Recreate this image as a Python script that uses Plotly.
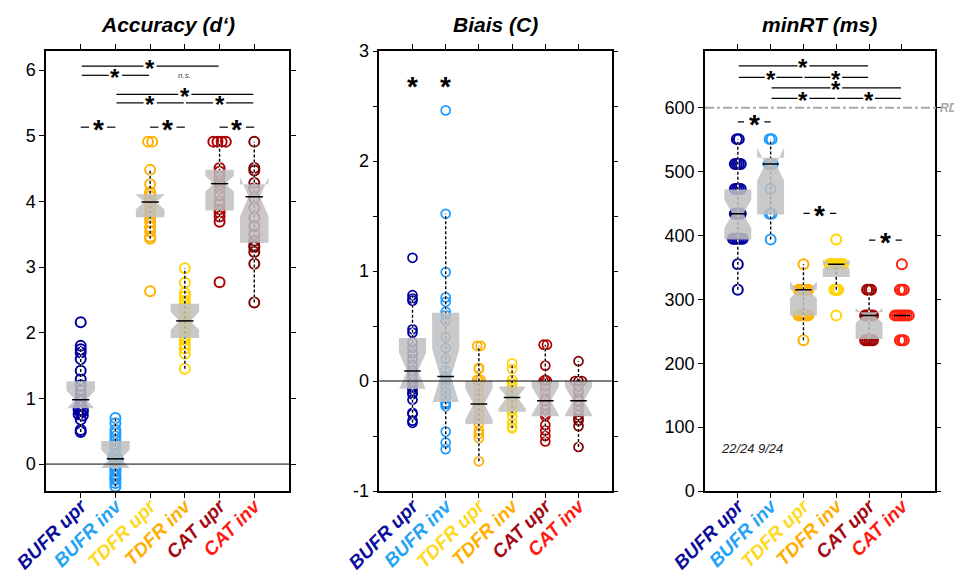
import plotly.graph_objects as go

# ---------------- categories / labels ----------------
categories = ["BUFR upr", "BUFR inv", "TDFR upr", "TDFR inv", "CAT upr", "CAT inv"]
label_colors = ["#0b0b9c", "#24a3f5", "#ffd91f", "#ffae00", "#a30a14", "#ff1b12"]

# ---------------- Accuracy (d') ----------------
acc_bufr_upr = [2.16, 1.80, 1.75, 1.70, 1.60, 1.42, 1.29, 1.20, 1.12, 1.05, 1.00, 0.96,
                0.92, 0.88, 0.85, 0.83, 0.82, 0.80, 0.78, 0.76, 0.74, 0.68, 0.52, 0.49]
acc_bufr_inv = [0.70, 0.62, 0.52, 0.47, 0.42, 0.36, 0.30, 0.25, 0.20, 0.15, 0.10, 0.08,
                0.05, 0.02, -0.02, -0.05, -0.08, -0.11, -0.16, -0.19, -0.22, -0.24, -0.29, -0.34]
acc_tdfr_upr = [4.91, 4.91, 4.48, 4.26, 4.14, 4.12, 4.08, 4.02, 3.99, 3.95, 3.90, 3.85,
                3.80, 3.76, 3.69, 3.61, 3.54, 3.46, 3.43, 2.63]
acc_tdfr_inv = [2.98, 2.76, 2.60, 2.55, 2.49, 2.44, 2.38, 2.30, 2.22, 2.18, 2.12, 2.05,
                2.00, 1.95, 1.92, 1.89, 1.83, 1.76, 1.68, 1.45]
acc_cat_upr = [4.91, 4.91, 4.91, 4.91, 4.51, 4.45, 4.38, 4.30, 4.27, 4.20, 4.10, 4.00,
               3.95, 3.88, 3.83, 3.77, 3.69, 2.77]
acc_cat_inv = [4.91, 4.51, 4.47, 4.28, 4.20, 4.05, 3.90, 3.75, 3.62, 3.50, 3.40, 3.33,
               3.30, 3.23, 3.05, 2.46]
acc_q1 = [0.85, -0.06, 3.76, 1.92, 3.86, 3.37]
acc_median = [0.98, 0.08, 3.99, 2.18, 4.27, 4.07]
acc_q3 = [1.26, 0.35, 4.11, 2.44, 4.48, 4.26]
acc_low = [0.49, -0.34, 3.43, 1.45, 3.69, 2.46]
acc_high = [1.80, 0.70, 4.48, 2.98, 4.91, 4.91]
acc_notch = [0.14, 0.14, 0.11, 0.14, 0.12, 0.30]
# significance: (from, to, y, label)
acc_sig_rows = [(0, 4, 6.06, "*"), (0, 2, 5.92, "*"), (2, 4, 5.92, "n.s."),
                (1, 5, 5.63, "*"), (1, 3, 5.50, "*"), (3, 5, 5.50, "*")]
acc_sig_pairs = [(0, 1, 5.13), (2, 3, 5.13), (4, 5, 5.13)]

# ---------------- Biais (C) ----------------
bias_bufr_upr = [1.12, 0.78, 0.75, 0.73, 0.47, 0.44, 0.35, 0.30, 0.25, 0.20, 0.15, 0.10,
                 0.06, 0.02, -0.02, -0.06, -0.08, -0.11, -0.12, -0.17, -0.29, -0.30, -0.36, -0.38]
bias_bufr_inv = [2.46, 1.52, 0.99, 0.76, 0.72, 0.63, 0.60, 0.55, 0.40, 0.30, 0.20, 0.10,
                 0.05, 0.00, -0.05, -0.10, -0.15, -0.20, -0.21, -0.23, -0.46, -0.56, -0.62]
bias_tdfr_upr = [0.32, 0.32, 0.12, 0.11, 0.01, 0.01, 0.00, -0.05, -0.10, -0.15, -0.21,
                 -0.25, -0.30, -0.35, -0.39, -0.45, -0.48, -0.52, -0.73]
bias_tdfr_inv = [0.16, 0.11, 0.01, -0.02, -0.05, -0.08, -0.12, -0.15, -0.18, -0.22,
                 -0.26, -0.28, -0.32, -0.38, -0.42, -0.43]
bias_cat_upr = [0.33, 0.33, 0.14, 0.01, 0.00, 0.00, -0.05, -0.10, -0.15, -0.18, -0.22,
                -0.26, -0.30, -0.32, -0.40, -0.45, -0.50, -0.55]
bias_cat_inv = [0.18, 0.00, 0.00, 0.00, -0.05, -0.10, -0.15, -0.18, -0.22, -0.27, -0.31,
                -0.34, -0.36, -0.41, -0.60]
bias_q1 = [-0.07, -0.19, -0.39, -0.28, -0.32, -0.32]
bias_median = [0.09, 0.04, -0.21, -0.15, -0.18, -0.18]
bias_q3 = [0.39, 0.62, 0.00, -0.05, 0.00, 0.00]
bias_low = [-0.38, -0.62, -0.73, -0.43, -0.55, -0.60]
bias_high = [0.78, 1.52, 0.32, 0.16, 0.33, 0.18]
bias_notch = [0.17, 0.25, 0.14, 0.10, 0.13, 0.13]
bias_sig_stars = [(0, 2.7), (1, 2.7)]

# ---------------- minRT (ms) ----------------
rt_bufr_upr = [551, 551, 512, 512, 512, 512, 473, 473, 473, 473, 434, 434, 434, 434,
               395, 395, 395, 395, 395, 395, 355, 315]
rt_bufr_inv = [551, 551, 512, 512, 473, 434, 434, 394, 512]
rt_tdfr_upr = [355, 315, 315, 315, 315, 315, 315, 275, 275, 275, 275, 275, 275, 236]
rt_tdfr_inv = [394, 355, 355, 355, 355, 355, 355, 355, 355, 315, 315, 315, 275]
rt_cat_upr = [315, 315, 315, 275, 275, 275, 275, 275, 236, 236, 236, 236, 236]
rt_cat_inv = [355, 315, 315, 315, 275, 275, 275, 275, 275, 275, 275, 275, 236, 236, 236]
rt_q1 = [394, 433, 275, 335, 238, 275]
rt_median = [434, 512, 315, 355, 275, 275]
rt_q3 = [472, 522, 315, 355, 280, 275]
rt_low = [315, 394, 236, 315, 236, 275]
rt_high = [551, 551, 355, 355, 315, 275]
rt_notch = [22, 26, 13, 7, 12, 0]
rt_sig_rows = [(0, 4, 665.8, "*"), (0, 2, 647.6, "*"), (2, 4, 647.6, "*"),
               (1, 5, 631.4, "*"), (1, 3, 614.7, "*"), (3, 5, 614.7, "*")]
rt_sig_pairs = [(0, 1, 578), (2, 3, 434.6), (4, 5, 392.8)]
rt_counts = [(0, "22/24"), (1, "9/24")]
rt_rdl = 600

FONT = "Liberation Sans"
PAGE_W, PAGE_H = 962, 570
OFF = 8                      # default page margin of the html body
FW, FH = PAGE_W - OFF, PAGE_H - OFF


def px(x):                   # page pixel -> paper x
    return (x - OFF) / FW


def py(y):                   # page pixel -> paper y
    return 1 - (y - OFF) / FH


ydom = [py(491), py(51)]

panels = [
    dict(title="Accuracy (d‘)", xdom=[px(46), px(289)], yrange=[-0.41, 6.29],
         points=[acc_bufr_upr, acc_bufr_inv, acc_tdfr_upr, acc_tdfr_inv, acc_cat_upr, acc_cat_inv],
         q1=acc_q1, med=acc_median, q3=acc_q3, lo=acc_low, hi=acc_high, notch=acc_notch,
         colors=["#0000a0", "#1e9bff", "#ffb000", "#ffd400", "#b00000", "#800000"],
         tol=0.03, step=0.12, msize=10, mlw=2, zero=True,
         ytick=dict(tickmode="array", tickvals=[0, 1, 2, 3, 4, 5, 6],
                    ticktext=["0", "1", "2", "3", "4", "5", "6"])),
    dict(title="Biais (C)", xdom=[px(379.3), px(611.7)], yrange=[-1, 3],
         points=[bias_bufr_upr, bias_bufr_inv, bias_tdfr_upr, bias_tdfr_inv, bias_cat_upr, bias_cat_inv],
         q1=bias_q1, med=bias_median, q3=bias_q3, lo=bias_low, hi=bias_high, notch=bias_notch,
         colors=["#0000a0", "#1e9bff", "#ffb000", "#ffd400", "#b00000", "#800000"],
         tol=0.015, step=0.1, msize=9, mlw=1.7, zero=True,
         ytick=dict(tickmode="array", tickvals=[-1, 0, 1, 2, 3],
                    ticktext=["-1", "0", "1", "2", "3"],
                    minor=dict(tickmode="array", tickvals=[-0.5, 0.5, 1.5, 2.5],
                               ticks="outside", ticklen=5, tickcolor="black"))),
    dict(title="minRT (ms)", xdom=[px(705), px(934.7)], yrange=[0, 689],
         points=[rt_bufr_upr, rt_bufr_inv, rt_tdfr_upr, rt_tdfr_inv, rt_cat_upr, rt_cat_inv],
         q1=rt_q1, med=rt_median, q3=rt_q3, lo=rt_low, hi=rt_high, notch=rt_notch,
         colors=["#0000a0", "#1e9bff", "#ffb000", "#ffd400", "#a00000", "#ff2010"],
         tol=3, step=0.06, msize=10, mlw=2, zero=False,
         ytick=dict(tickmode="array", tickvals=[0, 100, 200, 300, 400, 500, 600],
                    ticktext=["0", "100", "200", "300", "400", "500", "600"])),
]


def swarm(vals, tol, step):
    groups = {}
    for i, v in enumerate(vals):
        groups.setdefault(round(v / tol), []).append(i)
    offs = [0.0] * len(vals)
    for idx in groups.values():
        n = len(idx)
        for k, i in enumerate(idx):
            offs[i] = (k - (n - 1) / 2) * step
    return offs


tick_html = [f'<span style="color:{c}"><b><i>{t}</i></b></span>'
             for t, c in zip(categories, label_colors)]

fig = go.Figure()
layout = dict(width=FW, height=FH, margin=dict(l=0, r=0, t=0, b=0, autoexpand=False),
              template="none",
              paper_bgcolor="white", plot_bgcolor="white", showlegend=False,
              font=dict(family=FONT, color="black"))
shapes, annotations = [], []

for pi, P in enumerate(panels):
    n = "" if pi == 0 else str(pi + 1)
    xa, ya = "x" + n, "y" + n
    xo, yo = f"x{pi + 4}", f"y{pi + 4}"

    layout["xaxis" + n] = dict(domain=P["xdom"], range=[-1, 6], anchor=ya, automargin=False,
                               tickmode="array", tickvals=list(range(6)), ticktext=tick_html,
                               tickangle=-45, ticks="outside", ticklen=5, tickcolor="black",
                               ticklabelstandoff=-10,
                               showline=True, linecolor="black", linewidth=1.5, mirror="ticks",
                               showgrid=False, zeroline=False,
                               tickfont=dict(size=19, family=FONT))
    yax = dict(domain=ydom, range=P["yrange"], anchor=xa, automargin=False,
               ticks="outside", ticklen=5,
               tickcolor="black", showline=True, linecolor="black", linewidth=1.5,
               mirror="ticks", showgrid=False, zeroline=False,
               tickfont=dict(size=18, family=FONT))
    yax.update(P["ytick"])
    layout["yaxis" + n] = yax
    layout[f"xaxis{pi + 4}"] = dict(overlaying=xa, anchor=yo, range=[-1, 6], visible=False,
                                    automargin=False)
    layout[f"yaxis{pi + 4}"] = dict(overlaying=ya, anchor=xo, range=P["yrange"], visible=False,
                                    automargin=False)

    # points
    for ci, vals in enumerate(P["points"]):
        offs = swarm(vals, P["tol"], P["step"])
        fig.add_trace(go.Scatter(x=[ci + o for o in offs], y=vals, mode="markers",
                                 marker=dict(symbol="circle-open", size=P["msize"],
                                             color=P["colors"][ci], line=dict(width=P["mlw"])),
                                 xaxis=xa, yaxis=ya, hoverinfo="skip"))
    # whiskers
    wx, wy = [], []
    for ci in range(6):
        if P["hi"][ci] > P["lo"][ci]:
            wx += [ci, ci, None]
            wy += [P["lo"][ci], P["hi"][ci], None]
    fig.add_trace(go.Scatter(x=wx, y=wy, mode="lines", line=dict(color="white", width=1.6),
                             xaxis=xa, yaxis=ya, hoverinfo="skip"))
    fig.add_trace(go.Scatter(x=wx, y=wy, mode="lines",
                             line=dict(color="black", width=1.4, dash="3px,2px"),
                             xaxis=xa, yaxis=ya, hoverinfo="skip"))
    # notched boxes on overlay axes (drawn above points)
    fig.add_trace(go.Box(x=list(range(6)), q1=P["q1"], median=P["med"], q3=P["q3"],
                         lowerfence=P["lo"], upperfence=P["hi"], notchspan=P["notch"],
                         notched=True, notchwidth=0.3, width=0.82,
                         fillcolor="rgba(192,192,192,0.85)",
                         line=dict(width=0, color="rgba(0,0,0,0)"), whiskerwidth=0,
                         boxpoints=False, xaxis=xo, yaxis=yo, hoverinfo="skip"))
    # medians
    mx, my = [], []
    for ci in range(6):
        mx += [ci - 0.25, ci + 0.25, None]
        my += [P["med"][ci], P["med"][ci], None]
    fig.add_trace(go.Scatter(x=mx, y=my, mode="lines", line=dict(color="black", width=1.5),
                             xaxis=xo, yaxis=yo, hoverinfo="skip"))

    if P["zero"]:
        shapes.append(dict(type="line", xref=xa + " domain", yref=ya, x0=0, x1=1, y0=0, y1=0,
                           line=dict(color="black", width=1), layer="above"))

    annotations.append(dict(text=f"<b><i>{P['title']}</i></b>", xref="paper", yref="paper",
                            x=(P["xdom"][0] + P["xdom"][1]) / 2, y=py(24),
                            xanchor="center", yanchor="middle", showarrow=False,
                            font=dict(size=21, family=FONT, color="black")))


def star(xref, yref, x, y, size):
    return dict(text="<b>*</b>", xref=xref, yref=yref, x=x, y=y, xanchor="center",
                yanchor="middle", yshift=-0.08 * size, showarrow=False,
                font=dict(size=size, family=FONT, color="black"))


def sig_rows(rows, xa, ya, gap):
    for a, b, y, lab in rows:
        c = (a + b) / 2
        if lab == "*":
            for x0, x1 in [(a + 0.03, c - gap), (c + gap, b - 0.03)]:
                shapes.append(dict(type="line", xref=xa, yref=ya, x0=x0, x1=x1, y0=y, y1=y,
                                   line=dict(color="black", width=1.2), layer="above"))
            annotations.append(star(xa, ya, c, y, 24))
        else:
            annotations.append(dict(text=f"<i>{lab}</i>", xref=xa, yref=ya, x=c, y=y,
                                    showarrow=False, font=dict(size=8, family=FONT, color="#444")))


def sig_pairs(pairs, xa, ya, gap):
    for a, b, y in pairs:
        c = (a + b) / 2
        for x0, x1 in [(a, c - gap), (c + gap, b)]:
            shapes.append(dict(type="line", xref=xa, yref=ya, x0=x0, x1=x1, y0=y, y1=y,
                               line=dict(color="black", width=1.2), layer="above"))
        annotations.append(star(xa, ya, c, y, 28))


sig_rows(acc_sig_rows, "x", "y", 0.19)
sig_pairs(acc_sig_pairs, "x", "y", 0.26)
for cx, cy in bias_sig_stars:
    annotations.append(star("x2", "y2", cx, cy, 28))
sig_rows(rt_sig_rows, "x3", "y3", 0.18)
sig_pairs(rt_sig_pairs, "x3", "y3", 0.31)

# RDL reference line
shapes.append(dict(type="line", xref="paper", yref="y3", x0=px(705), x1=px(938),
                   y0=rt_rdl, y1=rt_rdl, line=dict(color="#a8a8a8", width=2, dash="dashdot"),
                   layer="above"))
annotations.append(dict(text="<b><i>RDL</i></b>", xref="paper", yref="y3", x=px(938), y=rt_rdl,
                        xanchor="left", yanchor="middle", showarrow=False,
                        font=dict(size=12, family=FONT, color="#a8a8a8")))
for cx, lab in rt_counts:
    annotations.append(dict(text=f"<i>{lab}</i>", xref="x3", yref="y3", x=cx, y=67,
                            showarrow=False, font=dict(size=13, family=FONT, color="#222")))

layout["shapes"] = shapes
layout["annotations"] = annotations
fig.update_layout(**layout)
fig.write_html("out.html")
